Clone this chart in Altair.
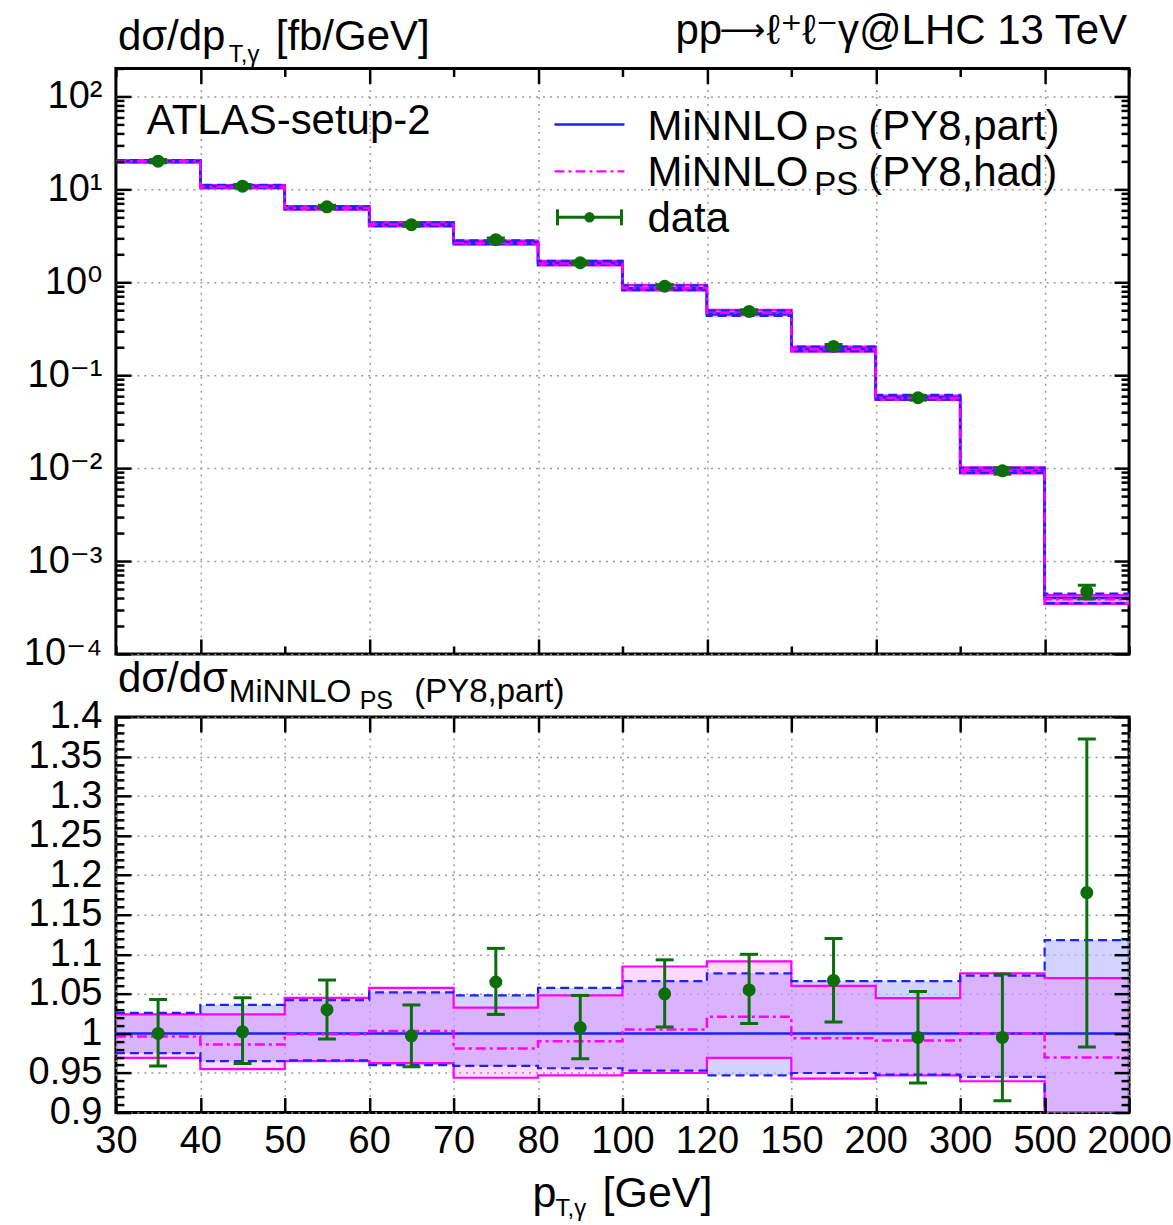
import altair as alt
import pandas as pd
import numpy as np

# ---------------- data ----------------
edges = ["30", "40", "50", "60", "70", "80", "100", "120", "150", "200", "300", "500", "2000"]
# MiNNLO_PS (PY8,part) central prediction, fb/GeV
part_xs = [20.1, 10.8, 6.3, 4.18, 2.7, 1.61, 0.863, 0.46, 0.191, 0.0575, 0.0094, 0.0004]
# ratios to MiNNLO_PS (PY8,part)
part_up = [1.026, 1.036, 1.042, 1.052, 1.048, 1.0575, 1.066, 1.076, 1.066, 1.066, 1.073, 1.118]
part_dn = [0.975, 0.965, 0.966, 0.960, 0.959, 0.956, 0.953, 0.947, 0.950, 0.948, 0.945, 0.88]
had_c = [0.996, 0.986, 0.999, 1.003, 0.981, 0.990, 1.005, 1.021, 0.994, 0.991, 1.0, 0.9696]
had_up = [1.024, 1.024, 1.045, 1.0575, 1.0325, 1.048, 1.0846, 1.091, 1.060, 1.0446, 1.076, 1.07]
had_dn = [0.969, 0.955, 0.965, 0.9625, 0.944, 0.947, 0.950, 0.969, 0.943, 0.947, 0.9396, 0.87]
data_r = [1.0, 1.002, 1.030, 0.997, 1.065, 1.0075, 1.050, 1.055, 1.067, 0.995, 0.995, 1.178]
data_up = [1.043, 1.045, 1.0675, 1.036, 1.1075, 1.048, 1.093, 1.10, 1.12, 1.053, 1.075, 1.372]
data_dn = [0.959, 0.962, 0.993, 0.958, 1.024, 0.968, 1.008, 1.0125, 1.0146, 0.9375, 0.915, 0.983]

n = len(part_xs)
FONT = "Liberation Sans, Arial, DejaVu Sans"
W, HT, HB = 1014, 586, 396
BLUE = "#1f1fff"
MAG = "#ff00ff"
GREEN = "#0b6e0b"
GRID = "#9a9a9a"
TICK_FS = 38
TXT_FS = 42


def mul(a, b):
    return [x * y for x, y in zip(a, b)]


def step_df(vals, vals2=None):
    d = {"x": list(range(n + 1)), "v": list(vals) + [vals[-1]]}
    if vals2 is not None:
        d["v2"] = list(vals2) + [vals2[-1]]
    return pd.DataFrame(d)


def pts_df(c, lo, hi):
    return pd.DataFrame({"x": [i + 0.5 for i in range(n)], "v": c, "lo": lo, "hi": hi})


xscale = alt.Scale(domain=[0, n], nice=False, zero=False)
label_arr = "[" + ",".join("'" + e + "'" for e in edges) + "]"

major_x_top = "datum.value % 2 == 1"


def text(s, x, y, size=TXT_FS, align="left", font=FONT):
    return alt.Chart(pd.DataFrame({"a": [0]})).mark_text(
        text=s, align=align, baseline="alphabetic", font=font, fontSize=size, color="black"
    ).encode(x=alt.value(x), y=alt.value(y))


def tick_axes(orient_x, orient_y, xvals, yvals, x_major_test, y_major_test, H):
    ax = alt.Axis(orient=orient_x, offset=-H, values=xvals, labels=False, ticks=True, domain=False,
                  grid=False, title=None, tickColor="black", tickWidth=2.5, zindex=2,
                  tickSize={"condition": {"test": x_major_test, "value": 15}, "value": 8})
    ay = alt.Axis(orient=orient_y, offset=-W, values=yvals, labels=False, ticks=True, domain=False,
                  grid=False, title=None, tickColor="black", tickWidth=2.5, zindex=2,
                  tickSize={"condition": {"test": y_major_test, "value": 15}, "value": 8})
    return ax, ay


def panel(top):
    if top:
        base = part_xs
        yscale = alt.Scale(type="log", domain=[1e-4, 200], nice=False)
        c_part = base
        pu, pd_ = mul(base, part_up), mul(base, part_dn)
        hc, hu, hd = mul(base, had_c), mul(base, had_up), mul(base, had_dn)
        dc, du, dd = mul(base, data_r), mul(base, data_up), mul(base, data_dn)
        H = HT
        ymaj = [1e-4, 1e-3, 1e-2, 1e-1, 1.0, 10.0, 100.0]
        yall = sorted({round(m * 10.0 ** k, 6) for k in range(-4, 3) for m in range(1, 10)
                       if m * 10.0 ** k <= 200 + 1e-9})
        ytest = "abs(log(datum.value)/LN10 - round(log(datum.value)/LN10)) < 0.001"
        ylabel = ("['10⁻⁴','10⁻³','10⁻²','10⁻¹','10⁰','10¹','10²']"
                  "[round(log(datum.value)/LN10) + 4]")
        xgrid_vals = [1, 3, 5, 7, 9, 11]
        xtest = major_x_top
        xlabels = False
    else:
        yscale = alt.Scale(domain=[0.9, 1.4], nice=False, zero=False)
        c_part = [1.0] * n
        pu, pd_ = part_up, part_dn
        hc, hu, hd = had_c, had_up, had_dn
        dc, du, dd = data_r, data_up, data_dn
        H = HB
        ymaj = [round(v, 2) for v in np.arange(0.9, 1.4001, 0.05)]
        yall = [round(v, 2) for v in np.arange(0.9, 1.4001, 0.01)]
        ytest = "abs(datum.value*20 - round(datum.value*20)) < 0.001"
        ylabel = "format(datum.value, '.2~f')"
        xgrid_vals = list(range(n + 1))
        xtest = "true"
        xlabels = True

    X = lambda ax=None: alt.X("x:Q", scale=xscale, axis=ax)
    Y = lambda f="v:Q", ax=None: alt.Y(f, scale=yscale, axis=ax)

    # axis carrier 1: labels + grid (behind)
    ax1 = alt.Axis(values=xgrid_vals if not xlabels else list(range(n + 1)), labels=xlabels,
                   labelExpr=label_arr + "[round(datum.value)]", labelFont=FONT,
                   labelFontSize=TICK_FS, labelColor="black", labelPadding=10,
                   labelOverlap=False, labelFlush=False, ticks=False, domain=False,
                   grid=True, gridColor=GRID, gridDash=[2, 5], gridWidth=1.5, title=None, zindex=0)
    ay1 = alt.Axis(values=ymaj, labelExpr=ylabel, labelFont=FONT, labelFontSize=TICK_FS,
                   labelColor="black", labelPadding=14, labelOverlap=False, labelFlush=False,
                   ticks=False, domain=False, grid=True, gridColor=GRID, gridDash=[2, 5],
                   gridWidth=1.5, title=None, zindex=0)
    carrier_df = step_df(c_part)
    car1 = alt.Chart(carrier_df).mark_point(opacity=0, size=1).encode(x=X(ax1), y=Y(ax=ay1))
    xa2, ya2 = tick_axes("top", "right", list(range(n + 1)), yall, xtest, ytest, H)
    car2 = alt.Chart(carrier_df).mark_point(opacity=0, size=1).encode(x=X(xa2), y=Y(ax=ya2))
    xa3, ya3 = tick_axes("bottom", "left", list(range(n + 1)), yall, xtest, ytest, H)
    car3 = alt.Chart(carrier_df).mark_point(opacity=0, size=1).encode(x=X(xa3), y=Y(ax=ya3))

    part_band = alt.Chart(step_df(pd_, pu)).mark_area(
        interpolate="step-after", color="#bcbcff", opacity=0.65, clip=True
    ).encode(x=X(), y=Y(), y2="v2:Q")
    had_band = alt.Chart(step_df(hd, hu)).mark_area(
        interpolate="step-after", color=MAG, opacity=0.15, clip=True
    ).encode(x=X(), y=Y(), y2="v2:Q")

    def line(vals, color, width, dash=None):
        kw = dict(interpolate="step-after", color=color, strokeWidth=width, clip=True)
        if dash:
            kw["strokeDash"] = dash
        return alt.Chart(step_df(vals)).mark_line(**kw).encode(x=X(), y=Y())

    ew = 2.6 if top else 2.2
    had_lo = line(hd, MAG, ew)
    had_hi = line(hu, MAG, ew)
    part_lo = line(pd_, BLUE, 2.2, [9, 5])
    part_hi = line(pu, BLUE, 2.2, [9, 5])
    part_c = line(c_part, BLUE, 2.5)
    had_cl = line(hc, MAG, 2.5, [10, 4, 3, 4])

    pdf = pts_df(dc, dd, du)
    ebar = alt.Chart(pdf).mark_rule(color=GREEN, strokeWidth=3, clip=True).encode(
        x=X(), y=Y("lo:Q"), y2="hi:Q")
    cap_lo = alt.Chart(pdf).mark_tick(orient="horizontal", size=18, thickness=3, color=GREEN,
                                      opacity=1, clip=True).encode(x=X(), y=Y("lo:Q"))
    cap_hi = alt.Chart(pdf).mark_tick(orient="horizontal", size=18, thickness=3, color=GREEN,
                                      opacity=1, clip=True).encode(x=X(), y=Y("hi:Q"))
    pts = alt.Chart(pdf).mark_point(filled=True, shape="circle", size=170, color=GREEN,
                                    opacity=1, clip=True).encode(x=X(), y=Y())

    layers = [car1, part_band, had_band, had_lo, had_hi, part_lo, part_hi, part_c, had_cl,
              ebar, cap_lo, cap_hi, pts, car2, car3]

    if top:
        layers += [
            text("dσ/dp", 2, -18),
            text("T,γ", 113, -6, size=24),
            text("[fb/GeV]", 314, -18, align="right"),
            text("pp", 560, -24),
            text("⟶", 604, -27, size=32, font="DejaVu Sans"),
            text("ℓ⁺ℓ⁻γ@LHC 13 TeV", 1012, -24, align="right"),
            text("ATLAS-setup-2", 31, 66),
            # legend
            text("MiNNLO", 532, 72),
            text("PS", 699, 81, size=33),
            text("(PY8,part)", 753, 72),
            text("MiNNLO", 532, 118),
            text("PS", 699, 127, size=33),
            text("(PY8,had)", 753, 118),
            text("data", 532, 164),
            alt.Chart(pd.DataFrame({"a": [0]})).mark_rule(color=BLUE, strokeWidth=2.5).encode(
                x=alt.value(439), x2=alt.value(509), y=alt.value(56)),
            alt.Chart(pd.DataFrame({"a": [0]})).mark_rule(
                color=MAG, strokeWidth=2.5, strokeDash=[10, 4, 3, 4]).encode(
                x=alt.value(439), x2=alt.value(509), y=alt.value(103)),
            alt.Chart(pd.DataFrame({"a": [0]})).mark_rule(color=GREEN, strokeWidth=3).encode(
                x=alt.value(442), x2=alt.value(506), y=alt.value(149)),
            alt.Chart(pd.DataFrame({"a": [0]})).mark_rule(color=GREEN, strokeWidth=3).encode(
                x=alt.value(442), y=alt.value(141), y2=alt.value(157)),
            alt.Chart(pd.DataFrame({"a": [0]})).mark_rule(color=GREEN, strokeWidth=3).encode(
                x=alt.value(506), y=alt.value(141), y2=alt.value(157)),
            alt.Chart(pd.DataFrame({"a": [0]})).mark_point(
                filled=True, shape="circle", size=110, color=GREEN, opacity=1).encode(
                x=alt.value(474), y=alt.value(149)),
        ]
    else:
        layers += [
            text("dσ/dσ", 2, -25),
            text("MiNNLO", 113, -15, size=32),
            text("PS", 244, -8, size=25),
            text("(PY8,part)", 449, -15, size=33, align="right"),
            text("p", 417, 491, size=43),
            text("T,γ", 440, 500, size=24),
            text("[GeV]", 597, 491, size=43, align="right"),
        ]

    return alt.layer(*layers).resolve_axis(x="independent", y="independent").properties(
        width=W, height=H)


chart = alt.vconcat(panel(True), panel(False), spacing=63, bounds="flush").properties(
    padding={"left": 21, "top": 8, "right": 0, "bottom": 0},
    background="white",
).configure_view(stroke="black", strokeWidth=3)

chart.save("out.html", embed_options={"renderer": "svg", "actions": False})
